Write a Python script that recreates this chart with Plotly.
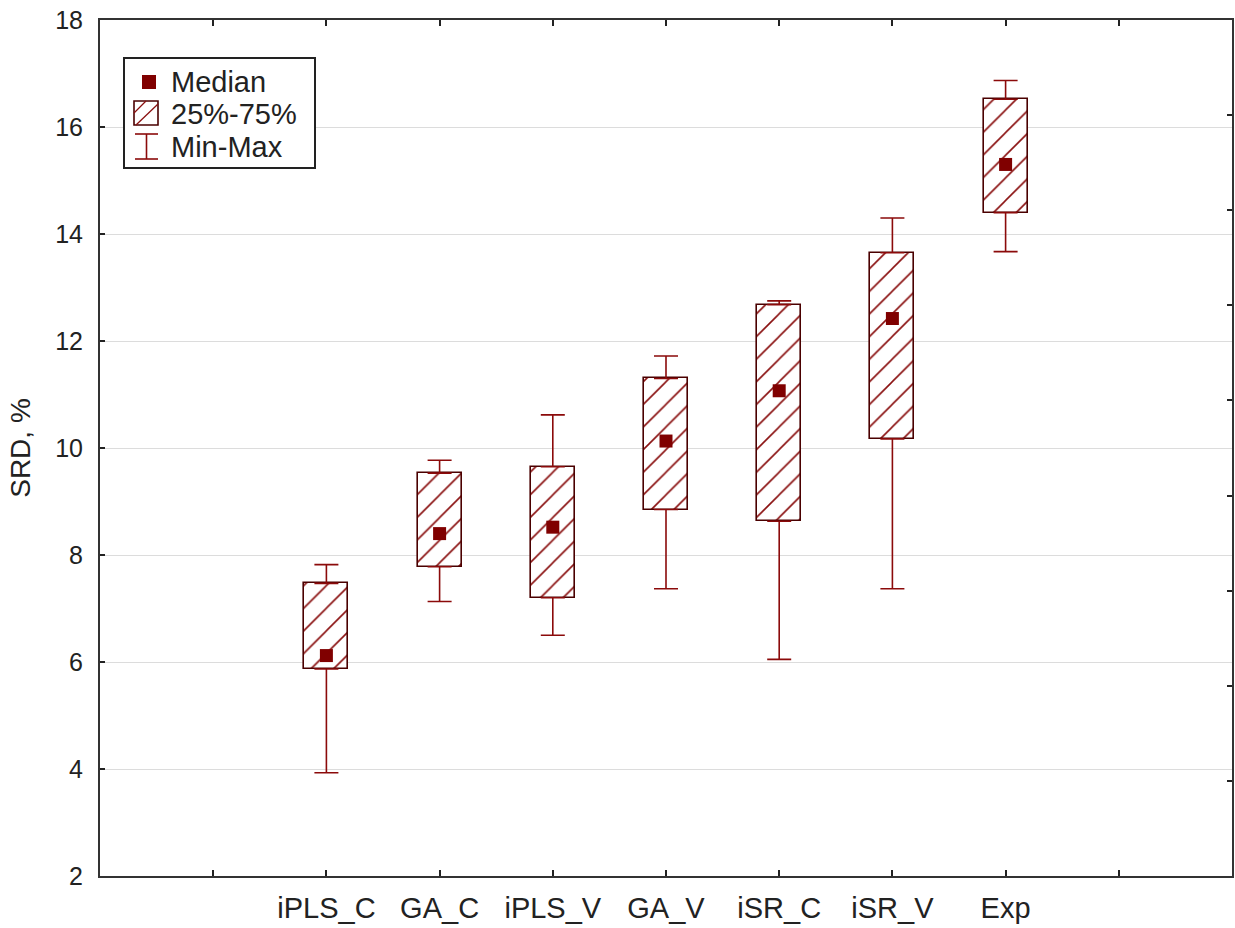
import plotly.graph_objects as go

# ---- data ----
categories = ["iPLS_C", "GA_C", "iPLS_V", "GA_V", "iSR_C", "iSR_V", "Exp"]
mins    = [3.93, 7.13, 6.50, 7.37, 6.05, 7.37, 13.67]
q1      = [5.87, 7.78, 7.20, 8.85, 8.63, 10.17, 14.40]
medians = [6.12, 8.40, 8.52, 10.13, 11.07, 12.42, 15.30]
q3      = [7.47, 9.53, 9.65, 11.30, 12.68, 13.65, 16.52]
maxs    = [7.82, 9.77, 10.62, 11.72, 12.75, 14.30, 16.87]
y_ticks = [2, 4, 6, 8, 10, 12, 14, 16, 18]

pos = [i + 2 for i in range(len(categories))]
RED = "#800000"
DARK = "#4a0000"
HATCH = "#8a1010"
WHISK = "#8b0a0a"
AX = "#333333"

fig = go.Figure()

# boxes (25%-75%) with hatch
fig.add_trace(go.Bar(
    x=pos, y=[b - a for a, b in zip(q1, q3)], base=q1, width=0.39,
    marker=dict(color="white", line=dict(color=DARK, width=1.6),
                pattern=dict(shape="/", fgcolor=HATCH, bgcolor="white",
                             fgopacity=1, size=16, solidity=0.1)),
    showlegend=False, hoverinfo="skip"))

# whiskers (Min-Max)
fig.add_trace(go.Scatter(
    x=pos, y=q3, mode="markers", marker=dict(color="rgba(0,0,0,0)", size=1),
    error_y=dict(type="data", symmetric=False,
                 array=[m - b for m, b in zip(maxs, q3)], arrayminus=[0] * len(pos),
                 width=12, thickness=1.6, color=WHISK),
    showlegend=False, hoverinfo="skip"))
fig.add_trace(go.Scatter(
    x=pos, y=q1, mode="markers", marker=dict(color="rgba(0,0,0,0)", size=1),
    error_y=dict(type="data", symmetric=False,
                 array=[0] * len(pos), arrayminus=[a - m for a, m in zip(q1, mins)],
                 width=12, thickness=1.6, color=WHISK),
    showlegend=False, hoverinfo="skip"))

# medians
fig.add_trace(go.Scatter(
    x=pos, y=medians, mode="markers",
    marker=dict(symbol="square", size=13, color=RED),
    showlegend=False))

# helper trace for right axis
fig.add_trace(go.Scatter(x=[None], y=[None], yaxis="y2", showlegend=False, hoverinfo="skip"))

# ---- layout ----
L, R, T, B = 100, 3, 20, 52
W, H = 1235, 928
PW, PH = W - L - R, H - T - B


def px(x):
    return (x - L) / PW


def py(y):
    return (H - B - y) / PH


shapes = []
ann = []
# legend box
shapes.append(dict(type="rect", xref="paper", yref="paper", x0=px(124), x1=px(315),
                   y0=py(168), y1=py(58), line=dict(color="#222", width=2),
                   fillcolor="white", layer="above"))
# median icon
shapes.append(dict(type="rect", xref="paper", yref="paper", x0=px(142), x1=px(156),
                   y0=py(89), y1=py(75), line=dict(width=0), fillcolor=RED, layer="above"))
# hatched icon
shapes.append(dict(type="rect", xref="paper", yref="paper", x0=px(134), x1=px(158),
                   y0=py(125), y1=py(101), line=dict(color=DARK, width=1.6),
                   fillcolor="white", layer="above"))
shapes.append(dict(type="line", xref="paper", yref="paper", x0=px(134), y0=py(113),
                   x1=px(146), y1=py(101), line=dict(color=HATCH, width=1.3), layer="above"))
shapes.append(dict(type="line", xref="paper", yref="paper", x0=px(136), y0=py(125),
                   x1=px(158), y1=py(104), line=dict(color=HATCH, width=1.3), layer="above"))
# min-max icon
for yy in (134, 159):
    shapes.append(dict(type="line", xref="paper", yref="paper", x0=px(135), y0=py(yy),
                       x1=px(158), y1=py(yy), line=dict(color=WHISK, width=1.6), layer="above"))
shapes.append(dict(type="line", xref="paper", yref="paper", x0=px(146.5), y0=py(134),
                   x1=px(146.5), y1=py(159), line=dict(color=WHISK, width=1.6), layer="above"))

for label, yy in (("Median", 82), ("25%-75%", 114), ("Min-Max", 147)):
    ann.append(dict(text=label, xref="paper", yref="paper", x=px(169), y=py(yy),
                    xanchor="left", yanchor="middle", showarrow=False,
                    font=dict(size=29, color="#222")))

fig.update_layout(
    width=W, height=H,
    margin=dict(l=L, r=R, t=T, b=B, pad=0),
    paper_bgcolor="white", plot_bgcolor="white",
    font=dict(family="Liberation Sans, Arial, sans-serif", color="#222"),
    showlegend=False,
    bargap=0,
    xaxis=dict(range=[0, 10], tickmode="array", tickvals=list(range(1, 10)),
               ticktext=[""] + categories + [""], ticks="inside", ticklen=6,
               tickwidth=1.5, tickcolor="#222", showline=True, linecolor=AX,
               linewidth=2, mirror="ticks", showgrid=False, zeroline=False,
               tickfont=dict(size=29), ticklabelstandoff=5),
    yaxis=dict(range=[2, 18], tickmode="array", tickvals=y_ticks, ticks="inside",
               ticklen=5, tickwidth=1.5, tickcolor="#222", showline=True,
               linecolor=AX, linewidth=2, showgrid=True, gridcolor="#dcdcdc",
               gridwidth=1, zeroline=False, tickfont=dict(size=25),
               ticklabelstandoff=10,
               title=dict(text="SRD, %", font=dict(size=28), standoff=16)),
    yaxis2=dict(overlaying="y", side="right", range=[0, 9], tickmode="array",
                tickvals=list(range(1, 9)), ticks="inside", ticklen=5, tickwidth=1.5,
                tickcolor="#222", showticklabels=False, showline=True, linecolor=AX,
                linewidth=2, showgrid=False, zeroline=False),
    shapes=shapes, annotations=ann,
)

fig.write_html("out.html")
